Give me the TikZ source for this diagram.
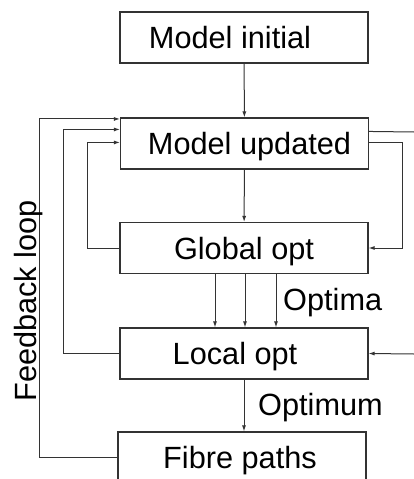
\documentclass[tikz,border=0pt]{standalone}
\usepackage{fontspec}
\setmainfont{Liberation Sans}
\usetikzlibrary{arrows.meta, positioning, calc}

\tikzset{
  stage/.style={draw=black!80, line width=1.1pt, minimum width=248pt, minimum height=51pt,
                inner sep=0pt, text height=22pt, text depth=0pt, font=\fontsize{30.7}{36}\selectfont},
  link/.style={draw=black!80, line width=1pt},
  tip/.style={-{Latex[length=6pt,width=4pt]}},
  tag/.style={font=\fontsize{30.7}{36}\selectfont, inner sep=0pt}
}
% shift the text inside a box
\newcommand\nudge[1]{\hspace*{#1pt}}

\begin{document}
\begin{tikzpicture}[x=1pt, y=-1pt]
\clip (0,0) rectangle (414,479);

\node (initial) [stage] at (244,37.5) {\nudge{-28}Model initial};
\node (updated) [stage] at (244.5,143.5) {Model updated\nudge{-10}};
\node (global) [stage] at (244,248) {Global opt};
\node (local) [stage] at (244,353.5) {\nudge{-18}Local opt};
\node (fibre) [stage] at (242,457.5) {\nudge{-4}Fibre paths};

\coordinate (edgeA) at (414,132);
\coordinate (edgeB) at (414,354);

% main flow
\draw [link, tip] (initial) -- (updated);
\draw [link, tip] (updated) -- (global);
\foreach \dx in {-29,1,32}
  \draw [link, tip] ($(global.south)+(\dx,0)$) -- ($(local.north)+(\dx,0)$);
\draw [link, tip] (local.south) -- (local.south |- fibre.north);

\node (optima) [tag, anchor=base west] at (283,310) {Optima};
\node (optimum) [tag, anchor=base west] at (258,415) {Optimum};

% loops on the left
\draw [link, tip] (fibre.west) -- ++(-78,0) |- ($(updated.north west)+(0,1.5)$);
\draw [link, tip] (local.west) -- ++(-56,0) |- ($(updated.north west)+(0,12)$);
\draw [link, tip] (global.west) -- ++(-32,0) |- ($(updated.north west)+(0,25)$);

\node (feedback) [tag, rotate=90, anchor=base] at (36,301) {Feedback loop};

% loops on the right
\draw [link] ($(updated.north east)+(0,14)$) -- (edgeA);
\draw [link, tip] ($(updated.north east)+(0,25)$) -- ++(33,0) |- (global.east);
\draw [link, tip] (edgeB) -- (local.east);
\end{tikzpicture}
\end{document}
